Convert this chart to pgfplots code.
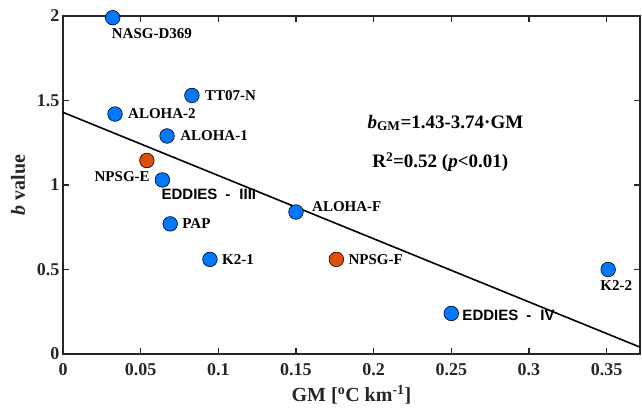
\documentclass[border=0pt]{standalone}
\usepackage{pgfplots}
\pgfplotsset{compat=1.18}
\usepackage{fontspec}
\setmainfont{Liberation Serif}
\newfontfamily\arialfont{Liberation Sans}
\definecolor{mblue}{RGB}{0,120,255}
\definecolor{morange}{RGB}{222,80,10}
\definecolor{axgray}{RGB}{38,38,38}
\tikzset{lbl/.style={font=\fontsize{15}{18}\selectfont\bfseries, inner sep=0pt, text=black},
 albl/.style={font=\arialfont\fontsize{15}{18}\selectfont\bfseries, inner sep=0pt, text=black},
 eq/.style={font=\fontsize{19}{22}\selectfont\bfseries, inner sep=0pt, text=black}}
\begin{document}
\begin{tikzpicture}
\path[use as bounding box] (0,0) rectangle (642pt,407pt);
\begin{axis}[
 at={(63pt,53pt)}, anchor=south west,
 scale only axis, width=577pt, height=338pt,
 xmin=0, xmax=0.3715, ymin=0, ymax=2,
 xtick={0,0.05,0.1,0.15,0.2,0.25,0.3,0.35},
 ytick={0,0.5,1,1.5,2},
 xticklabels={0,0.05,0.1,0.15,0.2,0.25,0.3,0.35},
 yticklabels={0,0.5,1,1.5,2},
 tick align=inside, major tick length=6pt,
 axis line style={axgray, line width=1.3pt},
 every tick/.style={axgray, line width=1.3pt},
 ticklabel style={font=\fontsize{18}{18}\selectfont\bfseries, text=axgray},
 xticklabel style={yshift=-6pt},
 every axis x label/.style={at={(axis description cs:0.5,-0.142)}, anchor=base, font=\fontsize{20}{22}\selectfont\bfseries, text=axgray, inner sep=0pt},
 every axis y label/.style={at={(axis description cs:-0.066,0.5)}, anchor=base, rotate=90, font=\fontsize{20}{22}\selectfont\bfseries, text=axgray, inner sep=0pt},
 xlabel={GM [\textsuperscript{o}C km\textsuperscript{-1}]},
 ylabel={\textit{b} value},
 clip=false,
]
\addplot[black, line width=1.6pt] coordinates {(0,1.43) (0.3715,0.0406)};
\addplot[only marks, mark=*, mark size=7.3pt, mark options={fill=mblue, draw=black, line width=0.6pt}] coordinates {
 (0.032,1.99) (0.083,1.53) (0.0335,1.42) (0.067,1.29) (0.064,1.03) (0.150,0.84)
 (0.069,0.77) (0.0946,0.56) (0.351,0.50) (0.250,0.24)};
\addplot[only marks, mark=*, mark size=7.3pt, mark options={fill=morange, draw=black, line width=0.6pt}] coordinates {
 (0.054,1.145) (0.176,0.56)};
\node[lbl, anchor=west, xshift=-1pt, yshift=-16pt] at (axis cs:0.032,1.99) {NASG-D369};
\node[lbl, anchor=west, xshift=13pt] at (axis cs:0.083,1.53) {TT07-N};
\node[lbl, anchor=west, xshift=13pt] at (axis cs:0.0335,1.42) {ALOHA-2};
\node[lbl, anchor=west, xshift=13pt] at (axis cs:0.067,1.29) {ALOHA-1};
\node[lbl, anchor=east, xshift=3pt, yshift=-16pt] at (axis cs:0.054,1.145) {NPSG-E};
\node[albl, anchor=west, xshift=-1pt, yshift=-14pt] at (axis cs:0.064,1.03) {EDDIES\hspace{8pt}-\hspace{9pt}IIII};
\node[lbl, anchor=west, xshift=16pt, yshift=5pt] at (axis cs:0.150,0.84) {ALOHA-F};
\node[lbl, anchor=west, xshift=12pt] at (axis cs:0.069,0.77) {PAP};
\node[lbl, anchor=west, xshift=12pt] at (axis cs:0.0946,0.56) {K2-1};
\node[lbl, anchor=west, xshift=12pt] at (axis cs:0.176,0.56) {NPSG-F};
\node[lbl, anchor=center, xshift=8pt, yshift=-16pt] at (axis cs:0.351,0.50) {K2-2};
\node[albl, anchor=west, xshift=11pt, yshift=-2pt] at (axis cs:0.250,0.24) {EDDIES\hspace{8pt}-\hspace{9pt}IV};
\node[eq, anchor=west] at (axis cs:0.196,1.367) {\textit{b}\textsubscript{GM}=1.43-3.74·GM};
\node[eq, anchor=west] at (axis cs:0.199,1.136) {R\textsuperscript{2}=0.52 (\textit{p}<0.01)};
\end{axis}
\end{tikzpicture}
\end{document}
